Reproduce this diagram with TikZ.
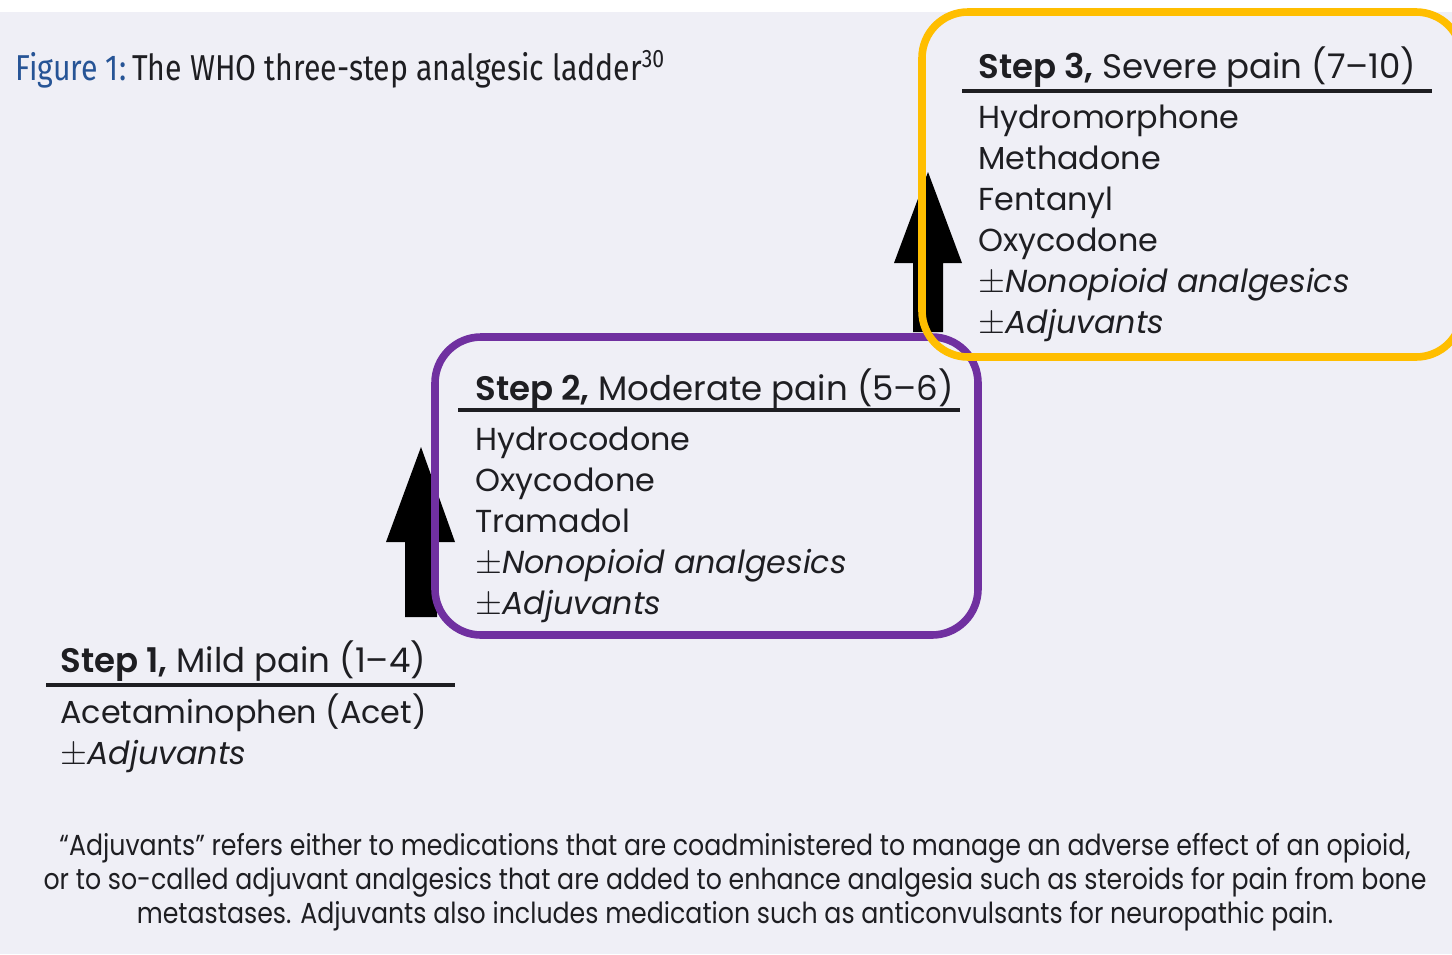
\documentclass[tikz,border=0pt]{standalone}
\usepackage{fontspec}
\setmainfont{Poppins}[BoldFont={Poppins SemiBold}]
\newfontfamily\titlefont[FakeStretch=0.84]{Fira Sans}
\newfontfamily\notefont[FakeStretch=0.87]{Poppins}
\usetikzlibrary{positioning}
\definecolor{bgpanel}{RGB}{239,239,246}
\definecolor{figblue}{RGB}{38,84,150}
\definecolor{inkdark}{RGB}{30,30,34}
\definecolor{stepgold}{RGB}{255,190,0}
\definecolor{steppurple}{RGB}{112,48,160}

\begin{document}
\begin{tikzpicture}[x=0.5pt,y=-0.5pt,
		drug/.style={anchor=base west,inner sep=0pt,text=inkdark,font=\fontsize{15.9}{19}\selectfont},
		stephead/.style={anchor=base west,inner sep=0pt,text=inkdark,font=\fontsize{17}{20}\selectfont},
		note/.style={anchor=base,inner sep=0pt,text=inkdark,font=\notefont\fontsize{14.5}{16}\selectfont},
		rule/.style={line width=2pt,inkdark},
		stepbox/.style={line width=3.8pt,rounded corners=23pt},
		blockarrow/.style={fill=black}
		]
		\useasboundingbox (0,0) rectangle (1452,954);
		\clip (0,0) rectangle (1452,954);
		\fill[white] (0,0) rectangle (1452,954);
		\fill[bgpanel] (0,12) rectangle (1452,954);
		
		% title
		\node[anchor=base west,inner sep=0pt,text=inkdark,font=\titlefont\fontsize{18}{20}\selectfont] (title) at (15,80)
		{\textcolor{figblue}{Figure 1:}\,The WHO three-step analgesic ladder\textsuperscript{30}};
		
		% block arrows (behind the boxes)
		\fill[blockarrow] (405,617) -- (405,542) -- (386,542) -- (421,447) -- (455,542) -- (437,542) -- (437,617) -- cycle;
		\fill[blockarrow] (913,332) -- (913,263) -- (894,263) -- (928,172) -- (962,263) -- (943,263) -- (943,332) -- cycle;
		
		% step 1
		\node[stephead] (s1) at (60,672) {\textbf{Step 1,} Mild pain (1--4)};
		\draw[rule] (46,685) -- (455,685);
		\foreach \drug [count=\i] in {Acetaminophen (Acet),$\pm$\textit{Adjuvants}}
		\node[drug] (s1d\i) at (60,682+41*\i) {\drug};
		
		% step 2
		\node[stephead] (s2) at (475,400) {\textbf{Step 2,} Moderate pain (5--6)};
		\draw[rule] (458,410) -- (960,410);
		\foreach \drug [count=\i] in {Hydrocodone,Oxycodone,Tramadol,$\pm$\textit{Nonopioid analgesics},$\pm$\textit{Adjuvants}}
		\node[drug] (s2d\i) at (475,409+41*\i) {\drug};
		\draw[stepbox,steppurple] (435,337) rectangle (978,635);
		
		% step 3
		\node[stephead] (s3) at (978,78) {\textbf{Step 3,} Severe pain (7--10)};
		\draw[rule] (962,91) -- (1432,91);
		\foreach \drug [count=\i] in {Hydromorphone,Methadone,Fentanyl,Oxycodone,$\pm$\textit{Nonopioid analgesics},$\pm$\textit{Adjuvants}}
		\node[drug] (s3d\i) at (978,87+41*\i) {\drug};
		\draw[stepbox,stepgold] (922,12) rectangle (1462,357);
		
		% footnote
		\node[note] (n1) at (735,855) {\textquotedblleft Adjuvants\textquotedblright\ refers either to medications that are coadministered to manage an adverse effect of an opioid,};
		\node[note] (n2) at (735,889) {or to so-called adjuvant analgesics that are added to enhance analgesia such as steroids for pain from bone};
		\node[note] (n3) at (735,923) {metastases. Adjuvants also includes medication such as anticonvulsants for neuropathic pain.};
	\end{tikzpicture}
\end{document}
